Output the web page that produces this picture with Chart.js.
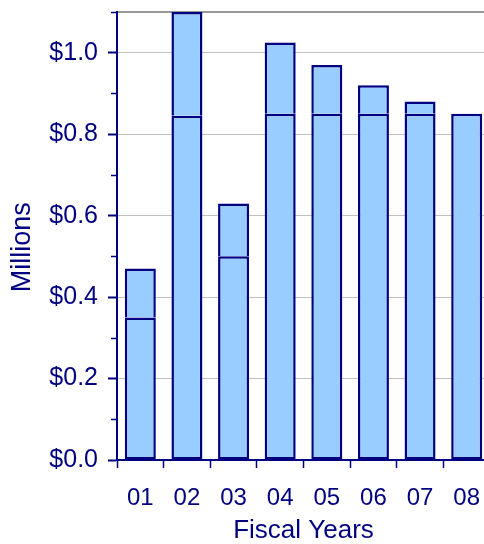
<!DOCTYPE html>
<html>
<head>
<meta charset="utf-8">
<script src="https://cdn.jsdelivr.net/npm/chart.js@4.4.1/dist/chart.umd.min.js"></script>
<style>
  html, body { margin: 0; padding: 0; background: #fff; overflow: hidden; }
  #wrap { width: 490px; height: 544px; }
</style>
</head>
<body>
<div id="wrap"><canvas id="chart" width="490" height="544"></canvas></div>
<script>
// fiscal years and the two stacked parts (millions of $)
var years = ['01', '02', '03', '04', '05', '06', '07', '08'];
var baseValues = [0.35, 0.845, 0.50, 0.85, 0.85, 0.85, 0.85, 0.85];
var addedValues = [0.12, 0.255, 0.13, 0.175, 0.12, 0.07, 0.03, null];
var yTicks = [0, 0.2, 0.4, 0.6, 0.8, 1.0];

var navy = '#000080';
var fill = '#99CCFF';

function isMajor(v) {
  for (var i = 0; i < yTicks.length; i++) {
    if (Math.abs(yTicks[i] - v) < 0.001) return true;
  }
  return false;
}

// short minor tick marks on the value axis
var minorTicks = {
  id: 'minorTicks',
  afterDraw: function(chart) {
    var y = chart.scales.y;
    var ctx = chart.ctx;
    ctx.save();
    ctx.strokeStyle = navy;
    ctx.lineWidth = 1.5;
    y.ticks.forEach(function(t) {
      if (isMajor(t.value)) return;
      var py = Math.round(y.getPixelForValue(t.value)) + 0.5;
      ctx.beginPath();
      ctx.moveTo(y.right - 6, py);
      ctx.lineTo(y.right, py);
      ctx.stroke();
    });
    ctx.restore();
  }
};

var ctx = document.getElementById('chart');
new Chart(ctx, {
  type: 'bar',
  data: {
    labels: years,
    datasets: [
      {
        label: 'base',
        data: baseValues,
        backgroundColor: fill,
        borderColor: navy,
        borderWidth: 2.5,
        borderSkipped: false
      },
      {
        label: 'added',
        data: addedValues,
        backgroundColor: fill,
        borderColor: navy,
        borderWidth: { top: 2.5, left: 2.5, right: 2.5, bottom: 0 },
        borderSkipped: false
      }
    ]
  },
  options: {
    responsive: false,
    animation: false,
    layout: { padding: { top: 12, left: 0, right: 0, bottom: 0 } },
    datasets: { bar: { categoryPercentage: 1, barPercentage: 0.665 } },
    plugins: { legend: { display: false }, tooltip: { enabled: false } },
    scales: {
      x: {
        stacked: true,
        border: { color: navy, width: 2 },
        grid: {
          offset: true,
          drawOnChartArea: false,
          drawTicks: true,
          tickLength: 8,
          tickColor: navy,
          tickWidth: 1.5
        },
        ticks: {
          color: navy,
          font: { family: 'Liberation Sans', size: 24 },
          padding: 16
        },
        title: {
          display: true,
          text: 'Fiscal Years',
          color: navy,
          font: { family: 'Liberation Sans', size: 26, lineHeight: 1.0 },
          padding: { top: 0, bottom: 0 }
        },
        afterFit: function(s) { s.height = 84; s.paddingLeft = 0; s.paddingRight = 0; }
      },
      y: {
        stacked: true,
        min: 0,
        max: 1.1,
        border: { color: navy, width: 2 },
        grid: {
          color: function(c) {
            if (c.tick && Math.abs(c.tick.value - 1.1) < 0.001) return '#999999';
            return c.tick && isMajor(c.tick.value) ? '#c0c0c0' : 'rgba(0,0,0,0)';
          },
          lineWidth: function(c) {
            return c.tick && Math.abs(c.tick.value - 1.1) < 0.001 ? 2 : 1;
          },
          tickLength: 9,
          tickWidth: 2,
          tickColor: function(c) {
            return c.tick && isMajor(c.tick.value) ? navy : 'rgba(0,0,0,0)';
          }
        },
        ticks: {
          stepSize: 0.1,
          autoSkip: false,
          color: navy,
          padding: 10,
          font: { family: 'Liberation Sans', size: 25 },
          callback: function(v) {
            return isMajor(v) ? '$' + v.toFixed(1) : '';
          }
        },
        title: {
          display: true,
          text: 'Millions   ',
          color: navy,
          font: { family: 'Liberation Sans', size: 27 },
          padding: { top: 6, bottom: 0 }
        },
        afterFit: function(s) { s.width = 117; s.paddingTop = 0; s.paddingBottom = 0; }
      }
    }
  },
  plugins: [minorTicks]
});
</script>
</body>
</html>
